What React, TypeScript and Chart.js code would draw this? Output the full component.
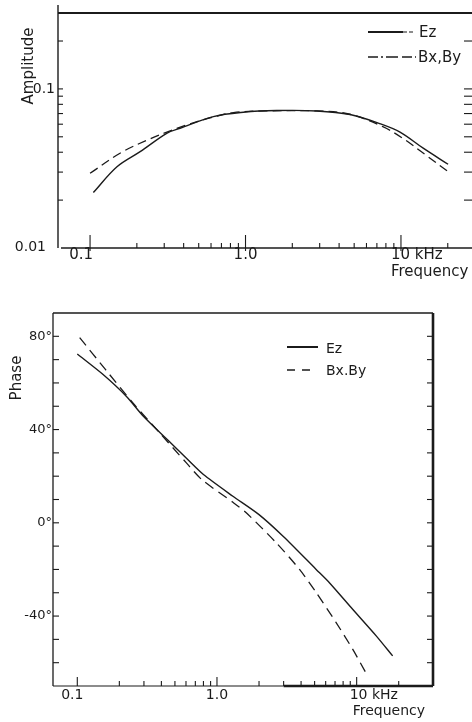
import { useEffect, useRef } from "react";
import { Chart, registerables } from "chart.js";
Chart.register(...registerables);

// ---- Amplitude (top) ----
const ampFreqEz = [0.105, 0.149, 0.21, 0.311, 0.379, 0.621, 0.968, 1.585, 2.87, 4.7, 7.3, 9.86, 13.9, 20.1];
const ampEz = [0.0223, 0.0324, 0.0403, 0.0526, 0.0566, 0.067, 0.0713, 0.0731, 0.0727, 0.069, 0.0605, 0.0535, 0.0424, 0.0336];
const ampFreqB = [0.1, 0.16, 0.243, 0.318, 0.42, 0.6, 0.836, 1.37, 2.87, 4.7, 7.7, 10.35, 14.6, 20.1];
const ampB = [0.0295, 0.04, 0.0485, 0.0539, 0.0594, 0.066, 0.071, 0.0727, 0.0727, 0.0693, 0.0577, 0.0487, 0.0381, 0.0302];

// ---- Phase (bottom) ----
const phFreqEz = [0.1, 0.153, 0.225, 0.296, 0.45, 0.62, 0.8, 1.3, 2.0, 3.0, 5.13, 6.38, 9.36, 13.8, 18.1];
const phEz = [72.4, 63.6, 54.2, 45.8, 35.2, 27.0, 20.7, 11.4, 3.5, -6, -20, -25.7, -37.1, -48.5, -57.1];
const phFreqB = [0.104, 0.16, 0.251, 0.39, 0.604, 0.78, 1.3, 1.62, 2.66, 3.9, 5.13, 7.13, 9.36, 11.7];
const phB = [79.4, 65.6, 51.3, 38.5, 25.7, 18.5, 8.8, 4.3, -8.6, -20, -29.9, -42.8, -54.2, -64.6];

// ---- ticks & labels ----
const freqTicks = [0.1, 0.2, 0.3, 0.4, 0.5, 0.6, 0.7, 0.8, 0.9, 1, 2, 3, 4, 5, 6, 7, 8, 9, 10, 20];
const freqMajor = [0.1, 1, 10];
const freqLabels = ["0.1", "1.0", "10 kHz"];
const ampTicks = [0.02, 0.03, 0.04, 0.05, 0.06, 0.07, 0.08, 0.09, 0.1, 0.2];
const ampLabelValues = [0.1, 0.01];
const ampLabels = ["0.1", "0.01"];
const phaseTicks = [-60, -50, -40, -30, -20, -10, 0, 10, 20, 30, 40, 50, 60, 70, 80];
const phaseLabelValues = [80, 40, 0, -40];
const phaseLabels = ["80°", "40°", "0°", "-40°"];
const seriesNames = ["Ez", "Bx,By"];
const seriesNamesPhase = ["Ez", "Bx.By"];

const INK = "#1b1b1b";
const FONT = '"DejaVu Sans", sans-serif';

function seg(ctx: CanvasRenderingContext2D, x1: number, y1: number, x2: number, y2: number, w = 1.2) {
  ctx.lineWidth = w;
  ctx.beginPath();
  ctx.moveTo(x1, y1);
  ctx.lineTo(x2, y2);
  ctx.stroke();
}

const topPlugin = {
  id: "topDecor",
  afterDraw(chart: any) {
    const ctx: CanvasRenderingContext2D = chart.ctx;
    const { left, right, top, bottom } = chart.chartArea;
    const xs = chart.scales.x;
    const ys = chart.scales.y;
    ctx.save();
    ctx.strokeStyle = INK;
    ctx.fillStyle = INK;
    ctx.setLineDash([]);
    seg(ctx, left, 5, left, bottom, 1.4);
    seg(ctx, left, top, right, top, 2);
    seg(ctx, left + 3, bottom, right, bottom, 1.3);
    seg(ctx, right, top, right, bottom, 1.3);
    for (const f of freqTicks) {
      const px = xs.getPixelForValue(f);
      const major = freqMajor.includes(f);
      seg(ctx, px, bottom + (major ? 3 : 0), px, bottom - (major ? 13 : 5), 1.1);
    }
    for (const v of ampTicks) {
      const py = ys.getPixelForValue(v);
      seg(ctx, left, py, left + 5, py, 1.1);
      seg(ctx, right, py, right - 10, py, 1.1);
    }
    // y labels
    ctx.font = "14px " + FONT;
    ctx.textAlign = "right";
    ctx.textBaseline = "middle";
    ctx.fillText(ampLabels[0], left - 3, ys.getPixelForValue(ampLabelValues[0]));
    ctx.fillText(ampLabels[1], left - 12, ys.getPixelForValue(ampLabelValues[1]) - 1);
    // x labels
    ctx.font = "15px " + FONT;
    ctx.textBaseline = "middle";
    ctx.textAlign = "center";
    ctx.fillText(freqLabels[0], xs.getPixelForValue(freqMajor[0]) - 9, bottom + 7);
    ctx.fillText(freqLabels[1], xs.getPixelForValue(freqMajor[1]), bottom + 7);
    ctx.textAlign = "left";
    ctx.fillText(freqLabels[2], xs.getPixelForValue(freqMajor[2]) - 10, bottom + 7);
    ctx.fillText("Frequency", xs.getPixelForValue(freqMajor[2]) - 10, bottom + 24);
    // y title
    ctx.save();
    ctx.translate(29, 66);
    ctx.rotate(-Math.PI / 2);
    ctx.textAlign = "center";
    ctx.fillText("Amplitude", 0, 0);
    ctx.restore();
    // legend
    seg(ctx, 368, 32, 403, 32, 1.8);
    ctx.setLineDash([4, 2]);
    seg(ctx, 403, 32, 415, 32, 1.2);
    ctx.setLineDash([10, 3, 2, 3, 12, 4]);
    seg(ctx, 368, 57, 416, 57, 1.3);
    ctx.setLineDash([]);
    ctx.textAlign = "left";
    ctx.fillText(seriesNames[0], 419, 33);
    ctx.fillText(seriesNames[1], 418, 58);
    ctx.restore();
  },
};

const botPlugin = {
  id: "botDecor",
  afterDraw(chart: any) {
    const ctx: CanvasRenderingContext2D = chart.ctx;
    const { left, right, top, bottom } = chart.chartArea;
    const xs = chart.scales.x;
    const ys = chart.scales.y;
    ctx.save();
    ctx.strokeStyle = INK;
    ctx.fillStyle = INK;
    ctx.setLineDash([]);
    seg(ctx, left, top, right, top, 1.3);
    seg(ctx, left, top, left, bottom, 1.3);
    const x3 = xs.getPixelForValue(3);
    seg(ctx, left, bottom, x3, bottom, 1.2);
    seg(ctx, x3, bottom, right, bottom, 2.6);
    seg(ctx, right, top, right, bottom, 2.6);
    for (const f of freqTicks) {
      const px = xs.getPixelForValue(f);
      const major = freqMajor.includes(f);
      seg(ctx, px, bottom, px, bottom - (major ? 9 : 5), 1.1);
    }
    for (const v of phaseTicks) {
      const py = ys.getPixelForValue(v);
      seg(ctx, left, py, left + 6, py, 1.1);
      seg(ctx, right, py, right - 6, py, 1.1);
    }
    ctx.font = "13px " + FONT;
    ctx.textAlign = "right";
    ctx.textBaseline = "middle";
    phaseLabelValues.forEach((v, i) => {
      ctx.fillText(phaseLabels[i], left - 1, ys.getPixelForValue(v));
    });
    ctx.font = "14px " + FONT;
    ctx.textAlign = "center";
    ctx.fillText(freqLabels[0], xs.getPixelForValue(freqMajor[0]) - 5, bottom + 9);
    ctx.fillText(freqLabels[1], xs.getPixelForValue(freqMajor[1]), bottom + 9);
    ctx.textAlign = "left";
    ctx.fillText(freqLabels[2], xs.getPixelForValue(freqMajor[2]) - 7, bottom + 9);
    ctx.fillText("Frequency", xs.getPixelForValue(freqMajor[2]) - 4, bottom + 25);
    ctx.save();
    ctx.translate(17, 88);
    ctx.rotate(-Math.PI / 2);
    ctx.textAlign = "center";
    ctx.font = "15px " + FONT;
    ctx.fillText("Phase", 0, 0);
    ctx.restore();
    // legend
    seg(ctx, 287, 57, 318, 57, 2);
    ctx.setLineDash([8, 7]);
    seg(ctx, 287, 80, 311, 80, 1.3);
    ctx.setLineDash([]);
    ctx.font = "14px " + FONT;
    ctx.textAlign = "left";
    ctx.fillText(seriesNamesPhase[0], 326, 59);
    ctx.fillText(seriesNamesPhase[1], 326, 81);
    ctx.restore();
  },
};

function pts(xs: number[], ys: number[]) {
  return xs.map((x, i) => ({ x, y: ys[i] }));
}

export default function App() {
  const topRef = useRef<HTMLCanvasElement>(null);
  const botRef = useRef<HTMLCanvasElement>(null);

  useEffect(() => {
    const common = {
      responsive: false,
      animation: false as const,
      devicePixelRatio: 1,
      events: [] as any[],
      plugins: { legend: { display: false }, tooltip: { enabled: false }, title: { display: false } },
    };
    const top = new Chart(topRef.current!, {
      type: "line",
      data: {
        datasets: [
          { label: seriesNames[0], data: pts(ampFreqEz, ampEz), borderColor: INK, borderWidth: 1.4, pointRadius: 0, tension: 0.35, fill: false },
          { label: seriesNames[1], data: pts(ampFreqB, ampB), borderColor: INK, borderWidth: 1.3, borderDash: [9, 5], pointRadius: 0, tension: 0.35, fill: false },
        ],
      },
      options: {
        ...common,
        layout: { padding: { left: 58, top: 13, right: 46, bottom: 42 } },
        scales: {
          x: { type: "logarithmic", min: 0.0622, max: 29.5, display: false },
          y: { type: "logarithmic", min: 0.01, max: 0.3, display: false },
        },
      },
      plugins: [topPlugin],
    } as any);
    const bot = new Chart(botRef.current!, {
      type: "line",
      data: {
        datasets: [
          { label: seriesNamesPhase[0], data: pts(phFreqEz, phEz), borderColor: INK, borderWidth: 1.4, pointRadius: 0, tension: 0.25, fill: false },
          { label: seriesNamesPhase[1], data: pts(phFreqB, phB), borderColor: INK, borderWidth: 1.3, borderDash: [10, 6], pointRadius: 0, tension: 0.25, fill: false },
        ],
      },
      options: {
        ...common,
        layout: { padding: { left: 53, top: 23, right: 39, bottom: 36 } },
        scales: {
          x: { type: "logarithmic", min: 0.067, max: 35.2, display: false },
          y: { type: "linear", min: -70, max: 90, display: false },
        },
      },
      plugins: [botPlugin],
    } as any);
    return () => {
      top.destroy();
      bot.destroy();
    };
  }, []);

  return (
    <div style={{ position: "absolute", left: 0, top: 0, width: 472, height: 722, overflow: "hidden", background: "#ffffff" }}>
      <canvas ref={topRef} width={520} height={290} style={{ position: "absolute", left: 0, top: 0, width: 520, height: 290 }} />
      <canvas ref={botRef} width={472} height={432} style={{ position: "absolute", left: 0, top: 290, width: 472, height: 432 }} />
    </div>
  );
}
